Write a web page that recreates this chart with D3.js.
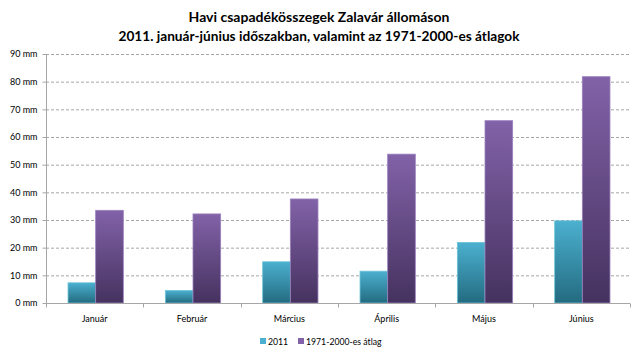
<!DOCTYPE html>
<html><head><meta charset="utf-8">
<script src="https://cdn.jsdelivr.net/npm/d3@7"></script>
<style>body{margin:0;background:#fff}svg{display:block}</style>
</head><body><svg id="c" width="640" height="357"></svg>
<script>
const categories = ["Január","Február","Március","Április","Május","Június"];
const series2011 = [7.3, 4.5, 14.9, 11.5, 21.9, 29.7];
const seriesAvg = [33.5, 32.2, 37.6, 53.8, 65.9, 81.8];
const seriesNames = ["2011","1971-2000-es átlag"];
const yTicks = [0,10,20,30,40,50,60,70,80,90];
const titleLines = ["Havi csapadékösszegek Zalavár állomáson","2011. január-június időszakban, valamint az 1971-2000-es  átlagok"];

const svg = d3.select("#c");
const m = {l:46, r:630, t:54, b:303};
const font = "Lato, 'Open Sans', sans-serif";

const defs = svg.append("defs");
const grads = [["g0","#4bb0cf","#236b80"],["g1","#8262a8","#45325f"]];
grads.forEach(([id,a,b])=>{
  const g = defs.append("linearGradient").attr("id",id).attr("x1",0).attr("x2",0).attr("y1",0).attr("y2",1);
  g.append("stop").attr("offset","0%").attr("stop-color",a);
  g.append("stop").attr("offset","100%").attr("stop-color",b);
});

const x = d3.scaleBand().domain(categories).range([m.l,m.r]).paddingInner(0).paddingOuter(0);
const y = d3.scaleLinear().domain([0,90]).range([m.b,m.t]);
const xs = d3.scaleBand().domain([0,1]).range([1,x.bandwidth()+1]).paddingInner(0).paddingOuter(0.76);

// grid
svg.append("g").selectAll("line").data(yTicks.filter(d=>d>0)).join("line")
  .attr("x1",m.l).attr("x2",m.r).attr("y1",d=>y(d)+0.5).attr("y2",d=>y(d)+0.5)
  .attr("stroke","#a6a6a6").attr("stroke-dasharray","3,2").attr("stroke-width",1);

// y axis
const ya = svg.append("g").attr("transform",`translate(${m.l+0.5},0)`)
  .call(d3.axisLeft(y).tickValues(yTicks).tickSize(4).tickFormat(d=>d+" mm"));
ya.select(".domain").attr("stroke","#a6a6a6").attr("d",`M0,${m.t}V${m.b}`);
ya.selectAll(".tick line").attr("stroke","#a6a6a6");
ya.selectAll(".tick text").attr("font-family",font).attr("font-size",9).attr("fill","#000").attr("x",-9);

// bars
const data = [series2011, seriesAvg];
data.forEach((vals,si)=>{
  const g = svg.append("g");
  g.selectAll("rect").data(vals).join("rect")
    .attr("x",(d,i)=>x(categories[i])+xs(si))
    .attr("width",xs.bandwidth())
    .attr("y",d=>y(d))
    .attr("height",d=>y(0)-y(d))
    .attr("fill",`url(#g${si})`)
    .attr("stroke", si===0 ? "#6cc3d9" : "#9a80bd").attr("stroke-width",0.8);
});

// x axis
const xa = svg.append("g").attr("transform",`translate(0,${m.b+0.5})`)
  .call(d3.axisBottom(x).tickSize(0).tickPadding(12));
xa.select(".domain").attr("stroke","#a6a6a6").attr("d",`M${m.l},0H${m.r}`);
xa.selectAll(".tick text").attr("font-family",font).attr("font-size",9).attr("fill","#000");
xa.append("g").selectAll("line").data(d3.range(categories.length+1)).join("line")
  .attr("x1",i=>Math.round(m.l+i*x.bandwidth())+0.5).attr("x2",i=>Math.round(m.l+i*x.bandwidth())+0.5)
  .attr("y1",0).attr("y2",4).attr("stroke","#a6a6a6");

// title
svg.append("g").selectAll("text").data(titleLines).join("text")
  .attr("x",319).attr("y",(d,i)=>22+i*19).attr("text-anchor","middle")
  .attr("font-family",font).attr("font-weight","bold").attr("font-size",14).attr("fill","#000")
  .attr("textLength",(d,i)=>i===1?401:null).attr("lengthAdjust","spacingAndGlyphs")
  .text(d=>d);

// legend
const lg = svg.append("g").attr("font-family",font).attr("font-size",8.7);
const lx = [260, 298];
seriesNames.forEach((n,i)=>{
  lg.append("rect").attr("x",lx[i]).attr("y",338).attr("width",6).attr("height",6).attr("fill",grads[i][1]);
  lg.append("text").attr("x",lx[i]+8).attr("y",345).text(n).attr("fill","#000");
});
</script></body></html>
